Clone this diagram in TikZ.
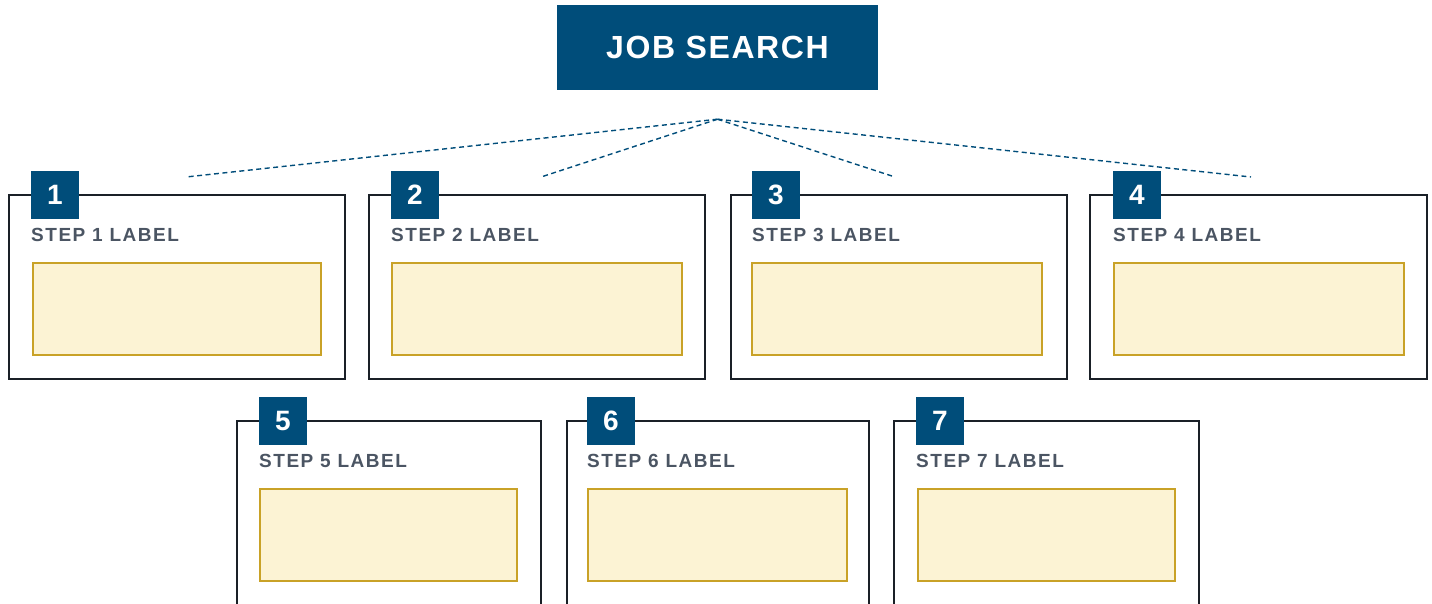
\documentclass[tikz,border=0pt]{standalone}
\usepackage{fontspec}
\setmainfont{Liberation Sans}
\newfontfamily\titlefont[LetterSpace=5]{Liberation Sans}
\newfontfamily\labelfont[LetterSpace=8]{Liberation Sans}
\usetikzlibrary{positioning}
\definecolor{jobblue}{HTML}{004D7A}
\definecolor{stepline}{HTML}{1A2027}
\definecolor{steptext}{HTML}{4B5563}
\definecolor{notefill}{HTML}{FCF3D4}
\definecolor{notedraw}{HTML}{C9A227}

\begin{document}
\begin{tikzpicture}[x=1pt, y=-1pt,
        title/.style={fill=jobblue, text=white, minimum width=321pt, minimum height=85pt, inner sep=0pt, font=\titlefont\bfseries\fontsize{32}{38}\selectfont},
        stepbox/.style={draw=stepline, line width=2pt, anchor=north west, minimum width=#1, minimum height=184pt, inner sep=0pt},
        badge/.style={fill=jobblue, text=white, minimum size=48pt, inner sep=0pt, font=\bfseries\fontsize{28}{30}\selectfont},
        steplabel/.style={anchor=base west, inner sep=0pt, text=steptext, font=\labelfont\bfseries\fontsize{19}{22}\selectfont},
        notebox/.style={draw=notedraw, fill=notefill, line width=2pt, anchor=north west, minimum width=#1, minimum height=92pt, inner sep=0pt},
        link/.style={draw=jobblue, line width=1.4pt, dash pattern=on 5pt off 3.5pt}
    ]
      \useasboundingbox (0,0) rectangle (1432,603);

      % Title
      \node[title] (job) at (717.5,47.5) {JOB SEARCH};
      \coordinate (hub) at ([yshift=-29pt]job.south);
      \coordinate (e1) at (186,177);
      \coordinate (e2) at (541,177);
      \coordinate (e3) at (895,177);
      \coordinate (e4) at (1251,177);
      \draw[link] (hub) -- (e1);
      \draw[link] (hub) -- (e2);
      \draw[link] (hub) -- (e3);
      \draw[link] (hub) -- (e4);

      % Top row
      \node[stepbox=336pt] (s1) at (8,194) {};
      \node[badge] (b1) at ([xshift=47pt,yshift=-1pt]s1.north west) {1};
      \node[steplabel] (l1) at ([xshift=23pt,yshift=-47pt]s1.north west) {STEP 1 LABEL};
      \node[notebox=288pt] (n1) at ([xshift=24pt,yshift=-68pt]s1.north west) {};

      \node[stepbox=336pt] (s2) at (368,194) {};
      \node[badge] (b2) at ([xshift=47pt,yshift=-1pt]s2.north west) {2};
      \node[steplabel] (l2) at ([xshift=23pt,yshift=-47pt]s2.north west) {STEP 2 LABEL};
      \node[notebox=290pt] (n2) at ([xshift=23pt,yshift=-68pt]s2.north west) {};

      \node[stepbox=336pt] (s3) at (730,194) {};
      \node[badge] (b3) at ([xshift=46pt,yshift=-1pt]s3.north west) {3};
      \node[steplabel] (l3) at ([xshift=22pt,yshift=-47pt]s3.north west) {STEP 3 LABEL};
      \node[notebox=290pt] (n3) at ([xshift=21pt,yshift=-68pt]s3.north west) {};

      \node[stepbox=337pt] (s4) at (1089,194) {};
      \node[badge] (b4) at ([xshift=48pt,yshift=-1pt]s4.north west) {4};
      \node[steplabel] (l4) at ([xshift=24pt,yshift=-47pt]s4.north west) {STEP 4 LABEL};
      \node[notebox=290pt] (n4) at ([xshift=24pt,yshift=-68pt]s4.north west) {};

      % Bottom row
      \node[stepbox=304pt] (s5) at (236,420) {};
      \node[badge] (b5) at ([xshift=47pt,yshift=-1pt]s5.north west) {5};
      \node[steplabel] (l5) at ([xshift=23pt,yshift=-47pt]s5.north west) {STEP 5 LABEL};
      \node[notebox=257pt] (n5) at ([xshift=23pt,yshift=-68pt]s5.north west) {};

      \node[stepbox=302pt] (s6) at (566,420) {};
      \node[badge] (b6) at ([xshift=45pt,yshift=-1pt]s6.north west) {6};
      \node[steplabel] (l6) at ([xshift=21pt,yshift=-47pt]s6.north west) {STEP 6 LABEL};
      \node[notebox=259pt] (n6) at ([xshift=21pt,yshift=-68pt]s6.north west) {};

      \node[stepbox=305pt] (s7) at (893,420) {};
      \node[badge] (b7) at ([xshift=47pt,yshift=-1pt]s7.north west) {7};
      \node[steplabel] (l7) at ([xshift=23pt,yshift=-47pt]s7.north west) {STEP 7 LABEL};
      \node[notebox=257pt] (n7) at ([xshift=24pt,yshift=-68pt]s7.north west) {};
    \end{tikzpicture}
\end{document}
